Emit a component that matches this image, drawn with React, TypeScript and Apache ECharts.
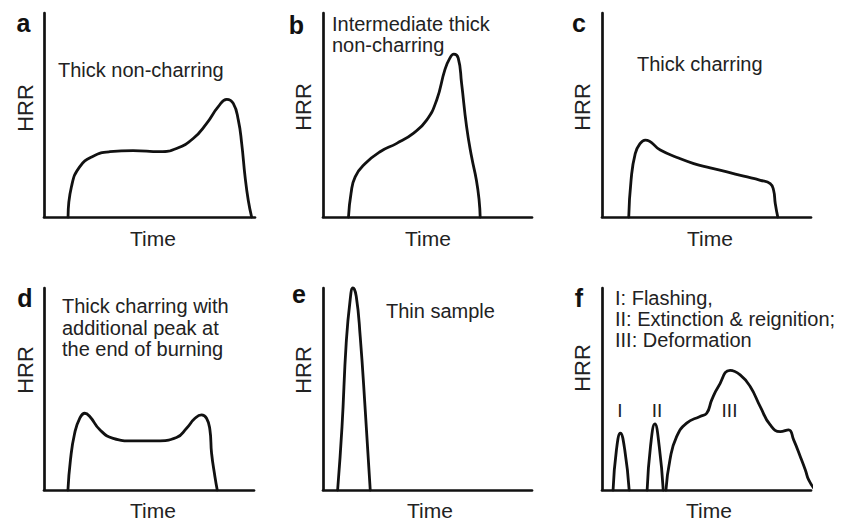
import React, { useEffect, useRef } from "react";
import * as echarts from "echarts";

// Schematic HRR curves: [time %, HRR %] of each panel's axis range
const curveA: [number, number][] = [
  [11.4, 0], [13, 14.8], [16.9, 24.6], [23.3, 29.8], [31.2, 32], [42.2, 32.5],
  [54.9, 32], [62.8, 33.6], [70.7, 38.5], [77.1, 45.9], [82.6, 54.1], [86.6, 57.7],
  [89.7, 55.7], [92.1, 47.5], [93.7, 36], [95.3, 19.7], [96.8, 8.2], [98.4, 0],
];
const curveB: [number, number][] = [
  [12.2, 0], [13.4, 11.5], [15.4, 19.7], [20.2, 26.2], [27.3, 32], [35.3, 36.1],
  [43.2, 41], [49.6, 47.5], [54.4, 57.4], [58.3, 72.1], [60.7, 77.9], [62.6, 79.8],
  [64.7, 77.9], [66.3, 65.6], [68.7, 44.3], [71.1, 29.5], [73.4, 18], [74.7, 8.2], [75.2, 0],
];
const curveC: [number, number][] = [
  [12.8, 0], [13.9, 18], [15.9, 31.1], [18.3, 36.1], [20.7, 37.7], [27.9, 32.8],
  [35.9, 29.2], [43.9, 26.2], [51.8, 24.1], [59.8, 22.1], [67.8, 20], [75.8, 18],
  [80.5, 16.4], [82.1, 13.1], [82.9, 6.6], [84.1, 0],
];
const curveD: [number, number][] = [
  [11.4, 0], [12.6, 14.9], [14.6, 28.1], [17, 35.5], [19.4, 38], [21.8, 36.4],
  [26.6, 29.8], [32.9, 25.6], [42.4, 24.3], [53.6, 24.3], [63.1, 26], [67.9, 30.6],
  [71.9, 35.5], [75, 37.2], [77.4, 35.5], [79, 29.8], [79.8, 18.2], [81.4, 6.6], [82.5, 0],
];
const curveE: [number, number][] = [
  [7, 0], [9.1, 31.4], [11.1, 72.7], [13, 94.2], [14.3, 100], [15.9, 95.9],
  [17.8, 76], [20.2, 39.7], [22.6, 0],
];
const curveF1: [number, number][] = [
  [5.3, 0], [6.9, 19.8], [8.8, 28.1], [10.9, 19.8], [13, 0],
];
const curveF2: [number, number][] = [
  [21.6, 0], [23.2, 21.5], [25.3, 32.7], [27.4, 21.5], [29.3, 0],
];
const curveF3: [number, number][] = [
  [30.6, 0], [32.5, 14.9], [35.7, 26.4], [40.5, 33.1], [46.9, 36.4], [50.1, 38],
  [52.5, 44.6], [55.7, 51.2], [61.3, 59.2], [66.1, 57], [70.9, 51.2], [75.7, 41.3],
  [80.5, 32.2], [85.3, 28.9], [89.3, 29.8], [91.7, 24.8], [94.9, 16.5], [97.3, 9.9],
  [98.9, 5], [102, 0],
];

const panelLetters = ["a", "b", "c", "d", "e", "f"];
const xAxisName = "Time";
const yAxisName = "HRR";
const annotations: string[][] = [
  ["Thick non-charring"],
  ["Intermediate thick", "non-charring"],
  ["Thick charring"],
  ["Thick charring with", "additional peak at", "the end of burning"],
  ["Thin sample"],
  ["I: Flashing,", "II: Extinction & reignition;", "III: Deformation"],
];
const phaseLabels = ["I", "II", "III"];

const panelCurves: [number, number][][][] = [
  [curveA], [curveB], [curveC], [curveD], [curveE], [curveF1, curveF2, curveF3],
];

// layout
const grids = [
  { left: 44, top: 13, width: 211, height: 204 },
  { left: 323, top: 13, width: 209, height: 204 },
  { left: 602, top: 13, width: 209, height: 204 },
  { left: 44, top: 288, width: 210, height: 202 },
  { left: 323, top: 288, width: 209, height: 202 },
  { left: 602, top: 288, width: 209, height: 202 },
];
const letterPos = [
  [23.5, 22.5], [296.5, 24.5], [579, 22.5], [25, 298], [299, 294], [579, 298],
];
const hrrPos = [
  [25, 108], [303, 107], [582, 107], [25, 370], [303, 370], [582, 368],
];
const timePos = [
  [153, 238.5], [428, 238.5], [710, 238.5], [153, 510.5], [430, 510.5], [709, 510.5],
];
const annoPos: { x: number; ys: number[] }[] = [
  { x: 58, ys: [70] },
  { x: 332, ys: [24, 45] },
  { x: 637, ys: [63.7] },
  { x: 62, ys: [306, 327.5, 348.5] },
  { x: 386, ys: [311] },
  { x: 615, ys: [298, 319, 340] },
];
const phasePos = [[620, 410], [657, 410], [729.5, 410]];

const FONT = "'Liberation Sans', Arial, Helvetica, sans-serif";
const INK = "#111";
const TXT = "#222";

export default function App() {
  const ref = useRef<HTMLDivElement>(null);
  useEffect(() => {
    document.body.style.margin = "0";
    if (!ref.current) return;
    const chart = echarts.init(ref.current, null, { renderer: "svg" });

    const axisLine = { show: true, onZero: false, lineStyle: { color: INK, width: 2.7 } };
    const xAxis = grids.map((_, i) => ({
      type: "value" as const, gridIndex: i, min: 0, max: 100,
      axisLine, axisTick: { show: false }, axisLabel: { show: false }, splitLine: { show: false },
    }));
    const yAxis = grids.map((_, i) => ({
      type: "value" as const, gridIndex: i, min: 0, max: 100,
      axisLine, axisTick: { show: false }, axisLabel: { show: false }, splitLine: { show: false },
    }));
    const series: any[] = [];
    panelCurves.forEach((curves, i) => {
      curves.forEach((c) => {
        series.push({
          type: "line", xAxisIndex: i, yAxisIndex: i, data: c,
          showSymbol: false, smooth: 0.5, clip: false,
          lineStyle: { color: INK, width: 2.8, join: "round", cap: "round" }, silent: true,
        });
      });
    });

    const graphic: any[] = [];
    panelLetters.forEach((l, i) => {
      graphic.push({
        type: "text", x: letterPos[i][0], y: letterPos[i][1],
        style: { text: l, font: `bold 25px ${FONT}`, fill: "#111", align: "center", verticalAlign: "middle" },
      });
      graphic.push({
        type: "text", x: hrrPos[i][0], y: hrrPos[i][1], rotation: Math.PI / 2,
        style: { text: yAxisName, font: `22px ${FONT}`, fill: TXT, align: "center", verticalAlign: "middle" },
      });
      graphic.push({
        type: "text", x: timePos[i][0], y: timePos[i][1],
        style: { text: xAxisName, font: `21px ${FONT}`, fill: TXT, align: "center", verticalAlign: "middle" },
      });
      annotations[i].forEach((line, j) => {
        graphic.push({
          type: "text", x: annoPos[i].x, y: annoPos[i].ys[j],
          style: { text: line, font: `20px ${FONT}`, fill: TXT, align: "left", verticalAlign: "middle" },
        });
      });
    });
    phaseLabels.forEach((p, k) => {
      graphic.push({
        type: "text", x: phasePos[k][0], y: phasePos[k][1],
        style: { text: p, font: `19px ${FONT}`, fill: TXT, align: "center", verticalAlign: "middle" },
      });
    });

    chart.setOption({
      animation: false,
      backgroundColor: "#fff",
      grid: grids.map((g) => ({ ...g, containLabel: false })),
      xAxis, yAxis, series, graphic,
    });
    return () => chart.dispose();
  }, []);
  return <div ref={ref} style={{ position: "fixed", left: 0, top: 0, width: 850, height: 522 }} />;
}
